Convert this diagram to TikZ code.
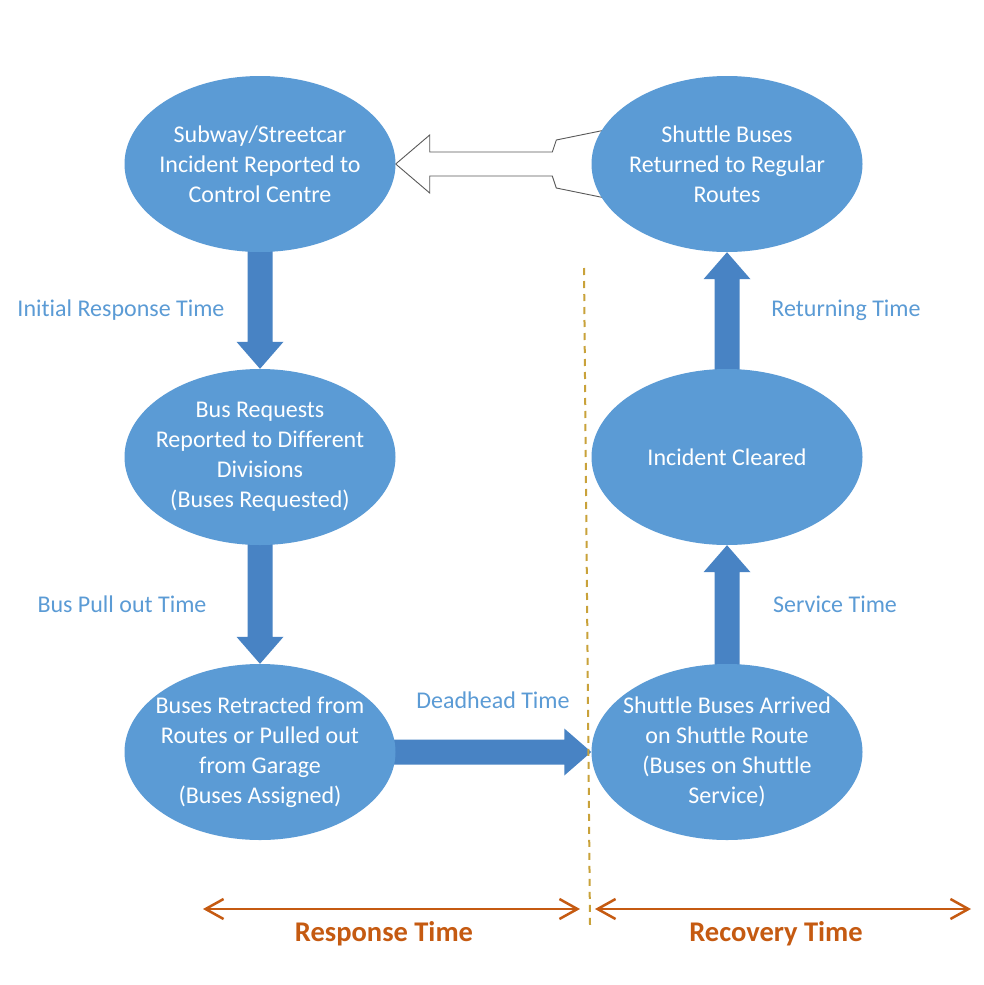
\documentclass[tikz,border=0pt]{standalone}
\usepackage{fontspec}
\setmainfont{Carlito}[RawFeature={-liga;-clig;-calt;-dlig}]
\usetikzlibrary{shapes.geometric,calc,arrows.meta}
\pgfdeclarelayer{back}
\pgfdeclarelayer{bg}
\pgfsetlayers{back,bg,main}
\definecolor{ellblue}{HTML}{5B9BD5}
\definecolor{arrblue}{HTML}{4883C4}
\definecolor{lblblue}{HTML}{5B9BD5}
\definecolor{rorange}{HTML}{C55A11}
\definecolor{dgold}{HTML}{C9A23A}
\definecolor{outlinegray}{HTML}{595959}
\tikzset{
  ell/.style={ellipse, fill=ellblue, minimum width=271pt, minimum height=176pt, inner sep=0pt},
  elltext/.style={text=white, align=center, inner sep=0pt, font=\fontsize{24}{30}\selectfont},
  lbl/.style={text=lblblue, inner sep=0pt, font=\fontsize{24}{30}\selectfont},
  spanarrow/.style={draw=rorange, line width=2.5pt, {Straight Barb[length=18pt,width=20pt]}-{Straight Barb[length=18pt,width=20pt]}},
  spanlbl/.style={text=rorange, inner sep=0pt, font=\bfseries\fontsize{28.5}{34}\selectfont},
  divider/.style={draw=dgold, line width=2pt, dash pattern=on 7pt off 6pt},
  whitearrow/.style={fill=white, draw=outlinegray, line width=0.9pt, line join=miter}
}
\newcommand{\blockarrow}[2]{%
  \path (#1) coordinate (ba-s) (#2) coordinate (ba-t);
  \coordinate (ba-h) at ($(ba-t)!27pt!(ba-s)$);
  \fill[arrblue] ($(ba-s)!12.5pt!90:(ba-t)$) -- ($(ba-h)!12.5pt!90:(ba-t)$) -- ($(ba-h)!23.5pt!90:(ba-t)$) -- (ba-t) -- ($(ba-h)!23.5pt!-90:(ba-t)$) -- ($(ba-h)!12.5pt!-90:(ba-t)$) -- ($(ba-s)!12.5pt!-90:(ba-t)$) -- cycle;
}
\begin{document}
\begin{tikzpicture}[x=1pt,y=-1pt]
\useasboundingbox (0,0) rectangle (984,985);
\begin{pgfonlayer}{back}
  \fill[white] (0,0) rectangle (984,985);
\end{pgfonlayer}

% ellipses
\node[ell] (tl) at (260,164) {};
\node[ell] (tr) at (727,164) {};
\node[ell] (ml) at (260,457) {};
\node[ell] (mr) at (727,457) {};
\node[ell] (bl) at (260,752) {};
\node[ell] (br) at (727,752) {};

\node[elltext] (tl-t) at (tl) {Subway/Streetcar\\Incident Reported to\\Control Centre};
\node[elltext] (tr-t) at (tr) {Shuttle Buses\\Returned to Regular\\Routes};
\node[elltext] (ml-t) at (ml) {Bus Requests\\Reported to Different\\Divisions\\(Buses Requested)};
\node[elltext] (mr-t) at (mr) {Incident Cleared};
\node[elltext] (bl-t) at (bl) {Buses Retracted from\\Routes or Pulled out\\from Garage\\(Buses Assigned)};
\node[elltext] (br-t) at (br) {Shuttle Buses Arrived\\on Shuttle Route\\(Buses on Shuttle\\Service)};

% connectors behind ellipses
\begin{pgfonlayer}{bg}
  \blockarrow{tl.center}{ml.north}
  \blockarrow{ml.center}{bl.north}
  \blockarrow{bl.center}{br.west}
  \blockarrow{br.center}{mr.south}
  \blockarrow{mr.center}{tr.south}
  \draw[whitearrow] (tl.east) -- ($(tl.east)+(34,-29)$) -- ($(tl.east)+(34,-12)$)
    -- ($(tr.west)+(-39,-12)$) -- ($(tr.west)+(-35,-24)$) -- ($(tr.west)+(14,-34)$)
    -- ($(tr.west)+(14,34)$) -- ($(tr.west)+(-35,24)$) -- ($(tr.west)+(-39,12)$)
    -- ($(tl.east)+(34,12)$) -- ($(tl.east)+(34,29)$) -- cycle;
\end{pgfonlayer}

% connector labels
\node[lbl] (l1) at (121,310) {Initial Response Time};
\node[lbl] (l2) at (122,604) {Bus Pull out Time};
\node[lbl] (l3) at (493,700) {Deadhead Time};
\node[lbl] (l4) at (846,310) {Returning Time};
\node[lbl] (l5) at (835,604) {Service Time};

% divider
\coordinate (dtop) at (584,268);
\coordinate (dbot) at (590,925);
\draw[divider] (dtop) -- (dbot);

% time spans
\coordinate (r1) at (203,909);
\coordinate (r2) at (580,909);
\coordinate (c1) at (595,909);
\coordinate (c2) at (971,909);
\draw[spanarrow] (r1) -- (r2);
\draw[spanarrow] (c1) -- (c2);
\node[spanlbl] (rt) at (384,934) {Response Time};
\node[spanlbl] (ct) at (776,934) {Recovery Time};
\end{tikzpicture}
\end{document}
